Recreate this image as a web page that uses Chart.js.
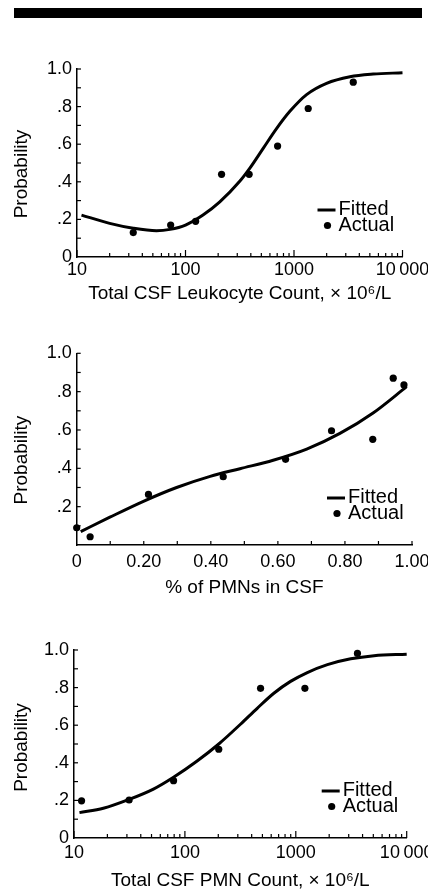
<!DOCTYPE html>
<html><head><meta charset="utf-8">
<script src="https://cdn.jsdelivr.net/npm/chart.js@4.4.1/dist/chart.umd.min.js"></script>
<style>
html,body{margin:0;padding:0;background:#fff;width:428px;height:896px;overflow:hidden;}
#bar{position:absolute;left:14px;top:8px;width:408px;height:10px;background:#000;}
canvas{position:absolute;left:0;}
</style></head><body>
<div id="bar"></div>
<canvas id="c1" width="428" height="263" style="top:50px"></canvas>
<canvas id="c2" width="428" height="271" style="top:330px"></canvas>
<canvas id="c3" width="428" height="264" style="top:630px"></canvas>
<script>
// ---------- data ----------
const seriesLabels = ['Fitted', 'Actual'];
const yTitle = 'Probability';

// Panel 1: Total CSF leukocyte count
const xTitle1 = 'Total CSF Leukocyte Count, \u00d7 10\u2076/L';
const fit1X = [11, 20, 33, 54, 72, 100, 145, 207, 316, 392, 520, 690, 916, 1306, 1995, 3280, 5370, 10000];
const fit1Y = [0.223, 0.179, 0.153, 0.140, 0.147, 0.170, 0.223, 0.293, 0.403, 0.473, 0.578, 0.683, 0.775, 0.864, 0.924, 0.959, 0.973, 0.980];
const act1X = [33, 73, 124, 215, 386, 706, 1352, 3516];
const act1Y = [0.13, 0.17, 0.19, 0.44, 0.44, 0.59, 0.79, 0.93];

// Panel 2: % of PMNs in CSF
const xTitle2 = '% of PMNs in CSF';
const fit2X = [0.012, 0.099, 0.199, 0.298, 0.398, 0.487, 0.586, 0.686, 0.785, 0.885, 0.984];
const fit2Y = [0.070, 0.145, 0.228, 0.300, 0.358, 0.398, 0.442, 0.500, 0.582, 0.690, 0.826];
const act2X = [0.0, 0.04, 0.214, 0.437, 0.623, 0.76, 0.883, 0.944, 0.976];
const act2Y = [0.09, 0.043, 0.264, 0.356, 0.447, 0.596, 0.551, 0.87, 0.835];

// Panel 3: Total CSF PMN count
const xTitle3 = 'Total CSF PMN Count, \u00d7 10\u2076/L';
const fit3X = [11.2, 18.4, 31.4, 52, 79, 128, 202, 317, 449, 634, 897, 1270, 1928, 3126, 5080, 10000];
const fit3Y = [0.135, 0.158, 0.205, 0.260, 0.323, 0.408, 0.500, 0.605, 0.690, 0.770, 0.833, 0.880, 0.922, 0.953, 0.970, 0.978];
const act3X = [11.7, 31.4, 79, 202, 481, 1208, 3597];
const act3Y = [0.198, 0.202, 0.305, 0.472, 0.796, 0.796, 0.982];

// ticks
const yTickValues = [0, 0.2, 0.4, 0.6, 0.8, 1.0];
const yTickLabelsA = ['0', '.2', '.4', '.6', '.8', '1.0'];
const yTickLabelsB = ['', '.2', '.4', '.6', '.8', '1.0'];
const logTickValues = [10, 100, 1000, 10000];
const logTickLabels = ['10', '100', '1000', '10\u2009000'];
const linTickValues = [0, 0.2, 0.4, 0.6, 0.8, 1.0];
const linTickLabels = ['0', '0.20', '0.40', '0.60', '0.80', '1.00'];

// ---------- rendering ----------
const FONT = '"Liberation Sans", Arial, Helvetica, sans-serif';
Chart.defaults.font.family = FONT;
Chart.defaults.color = '#000';

const yMinor = [0.1, 0.2, 0.3, 0.4, 0.5, 0.6, 0.7, 0.8, 0.9, 1.0];
const logMarks = [];
[10, 100, 1000].forEach(d => { for (let k = 1; k <= 9; k++) logMarks.push({v: d * k, major: k === 1}); });
logMarks.push({v: 10000, major: true});
const linMarks = [];
for (let k = 1; k <= 10; k++) linMarks.push({v: k / 10, major: false});

const decor = {
  id: 'decor',
  afterDraw(chart, args, opts) {
    const {ctx, chartArea: a, scales: {x, y}} = chart;
    ctx.save();
    ctx.strokeStyle = '#000';
    ctx.lineWidth = 1.2;
    const seg = (x1, y1, x2, y2) => { ctx.beginPath(); ctx.moveTo(x1, y1); ctx.lineTo(x2, y2); ctx.stroke(); };
    yMinor.forEach(v => { const py = y.getPixelForValue(v); seg(a.left, py, a.left + 4, py); });
    opts.xMarks.forEach(m => { const px = x.getPixelForValue(m.v); seg(px, a.bottom, px, a.bottom - (m.major ? 7 : 4)); });
    // y-axis title
    ctx.fillStyle = '#000';
    ctx.save();
    ctx.translate(22, (a.top + a.bottom) / 2 + opts.yTitleShift);
    ctx.rotate(-Math.PI / 2);
    ctx.font = '19px ' + FONT;
    ctx.textAlign = 'center';
    ctx.textBaseline = 'middle';
    ctx.fillText(opts.yTitle, 0, 0);
    ctx.restore();
    // legend
    const ds = chart.data.datasets;
    const tx = a.right - 64;
    const r1 = a.bottom - 48, r2 = a.bottom - 31.5;
    ctx.lineWidth = ds[0].borderWidth;
    seg(tx - 21, r1 + 1, tx - 3, r1 + 1);
    ctx.fillStyle = ds[1].backgroundColor;
    ctx.beginPath(); ctx.arc(tx - 11, r2, ds[1].pointRadius, 0, Math.PI * 2); ctx.fill();
    ctx.fillStyle = '#000';
    ctx.font = '20px ' + FONT;
    ctx.textBaseline = 'middle';
    ctx.textAlign = 'left';
    ctx.fillText(ds[0].label, tx, r1);
    ctx.fillText(ds[1].label, tx, r2);
    ctx.restore();
  }
};

function pts(xs, ys) { return xs.map((v, i) => ({x: v, y: ys[i]})); }

function makeChart(id, o) {
  const X_AXIS_H = 56;
  return new Chart(document.getElementById(id), {
    type: 'scatter',
    data: {
      datasets: [
        {label: seriesLabels[0], data: pts(o.fitX, o.fitY), showLine: true, pointRadius: 0,
         borderColor: '#000', backgroundColor: '#000', borderWidth: 3, cubicInterpolationMode: 'monotone', clip: 10},
        {label: seriesLabels[1], data: pts(o.actX, o.actY), showLine: false, pointRadius: 3.6,
         borderWidth: 0, backgroundColor: '#000', borderColor: '#000', clip: 10}
      ]
    },
    options: {
      responsive: false, animation: false, devicePixelRatio: 1,
      layout: {padding: {top: o.padTop, right: o.padRight, bottom: 0, left: 0}},
      plugins: {legend: {display: false}, tooltip: {enabled: false},
                decor: {xMarks: o.xMarks, yTitle: yTitle, yTitleShift: o.yTitleShift}},
      scales: {
        x: {
          type: o.xType, min: o.xMin, max: o.xMax,
          grid: {display: true, drawOnChartArea: false, drawTicks: false},
          border: {display: true, color: '#000', width: 1.5},
          afterBuildTicks: s => { s.ticks = o.xTickValues.map(v => ({value: v})); },
          ticks: {autoSkip: false, maxRotation: 0, minRotation: 0, padding: o.tickPad, font: {size: 18},
                  callback: (v, i) => o.xTickLabels[i]},
          title: {display: true, text: o.xTitle, font: {size: 19}, padding: {top: 0, bottom: o.titlePadBottom}},
          afterFit: s => { s.height = X_AXIS_H; s.paddingLeft = 0; s.paddingRight = 0; s.paddingTop = 0; s.paddingBottom = 0; }
        },
        y: {
          type: 'linear', min: 0, max: 1,
          grid: {display: true, drawOnChartArea: false, drawTicks: false},
          border: {display: true, color: '#000', width: 1.5},
          afterBuildTicks: s => { s.ticks = yTickValues.map(v => ({value: v})); },
          ticks: {autoSkip: false, padding: 5, font: {size: 18}, callback: (v, i) => o.yTickLabels[i]},
          title: {display: false},
          afterFit: s => { s.width = o.left; s.paddingLeft = 0; s.paddingRight = 0; s.paddingTop = 0; s.paddingBottom = 0; }
        }
      }
    },
    plugins: [decor]
  });
}

makeChart('c1', {fitX: fit1X, fitY: fit1Y, actX: act1X, actY: act1Y, xType: 'logarithmic', xMin: 10, xMax: 10000,
  xTickValues: logTickValues, xTickLabels: logTickLabels, yTickLabels: yTickLabelsA, xTitle: xTitle1,
  xMarks: logMarks, padTop: 19, padRight: 428 - 402.5, left: 77, tickPad: 2, titlePadBottom: 7.6, yTitleShift: 11});
makeChart('c2', {fitX: fit2X, fitY: fit2Y, actX: act2X, actY: act2Y, xType: 'linear', xMin: 0, xMax: 1,
  xTickValues: linTickValues, xTickLabels: linTickLabels, yTickLabels: yTickLabelsB, xTitle: xTitle2,
  xMarks: linMarks, padTop: 23.3, padRight: 428 - 412, left: 76.7, tickPad: 6, titlePadBottom: 1.6, yTitleShift: 11});
makeChart('c3', {fitX: fit3X, fitY: fit3Y, actX: act3X, actY: act3Y, xType: 'logarithmic', xMin: 10, xMax: 10000,
  xTickValues: logTickValues, xTickLabels: logTickLabels, yTickLabels: yTickLabelsA, xTitle: xTitle3,
  xMarks: logMarks, padTop: 20, padRight: 428 - 406.7, left: 74, tickPad: 4, titlePadBottom: 1.6, yTitleShift: 3.5});
</script>
</body></html>
